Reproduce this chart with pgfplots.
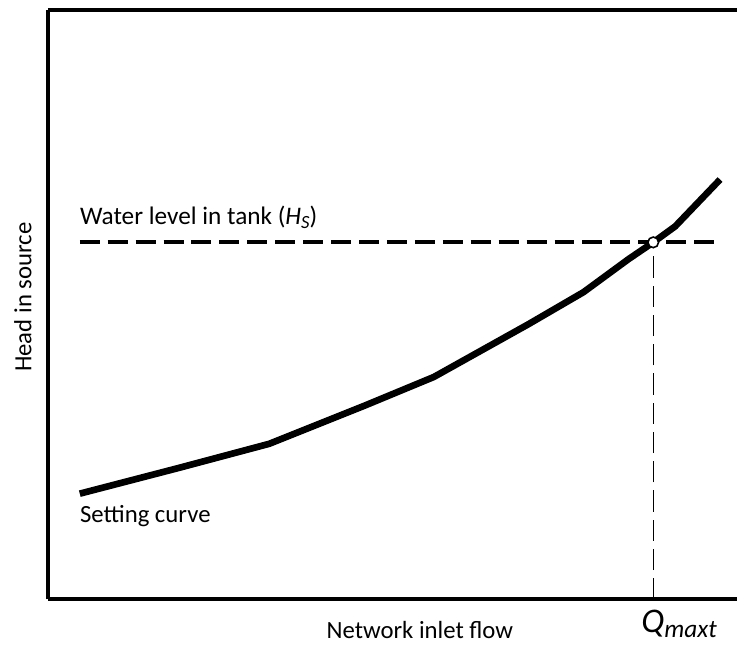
\documentclass[border=0pt]{standalone}
\usepackage{fontspec}
\setmainfont{Carlito}
\usepackage{pgfplots}
\pgfplotsset{compat=1.18}
\begin{document}
\begin{tikzpicture}
\begin{axis}[
scale only axis,
width=518.25pt,
height=443.25pt,
xmin=48, xmax=739,
ymin=45, ymax=636,
separate axis lines,
axis x line=box,
axis y line=left,
axis line style={-, line width=3pt},
xtick=\empty, ytick=\empty,
clip=false,
xlabel={Network inlet flow},
x label style={at={(axis cs:421,14)}, anchor=center, font=\fontsize{18.6}{20}\selectfont},
ylabel={Head in source},
y label style={at={(axis cs:23,348)}, anchor=center, font=\fontsize{18.6}{20}\selectfont},
]
% bounding box in pixel units of the reference
\path (axis cs:0,0) rectangle (axis cs:739,646);
% water level in tank
\addplot[black, line width=3pt, dash pattern=on 15pt off 6pt] coordinates {(80,403) (722,403)};
% Q_maxt
\addplot[black, line width=0.75pt, dash pattern=on 16pt off 6pt] coordinates {(655,45) (655,403)};
% setting curve
\addplot[black, line width=5pt, line join=round] coordinates {
(80,151) (180,177) (270,201) (365,239) (435,268) (530,321) (585,353) (630,386) (655,403) (677,419) (722,466)};
\addplot[only marks, mark=*, mark size=4pt, mark options={fill=white, draw=black, line width=1.2pt}] coordinates {(655,403)};
\node[anchor=base west, font=\fontsize{19}{20}\selectfont, inner sep=0pt] at (axis cs:80,421) {Water level in tank (\textit{H}\raisebox{-0.35ex}{\fontsize{14}{14}\selectfont\textit{S}})};
\node[anchor=base west, font=\fontsize{18.6}{20}\selectfont, inner sep=0pt] at (axis cs:80,122) {Setting curve};
\node[anchor=center, font=\fontsize{26}{28}\selectfont, inner sep=0pt] at (axis cs:681,20) {\textit{Q}\raisebox{-0.3ex}{\fontsize{19}{20}\selectfont\textit{maxt}}};
\end{axis}
\end{tikzpicture}
\end{document}
